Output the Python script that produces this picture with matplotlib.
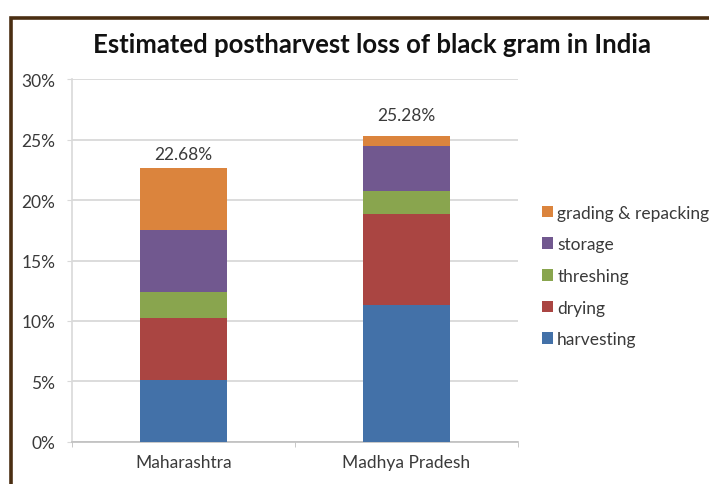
import matplotlib.pyplot as plt
from matplotlib.patches import Rectangle
from matplotlib.ticker import PercentFormatter, MultipleLocator

plt.rcParams['font.family'] = ['Lato', 'DejaVu Sans']

states = ['Maharashtra', 'Madhya Pradesh']
stages = ['harvesting', 'drying', 'threshing', 'storage', 'grading & repacking']
harvesting = [5.13, 11.34]
drying = [5.08, 7.51]
threshing = [2.16, 1.88]
storage = [5.13, 3.75]
grading = [5.18, 0.80]
colors = ['#4371a8', '#aa4542', '#89a54e', '#71588f', '#db843d']

fig = plt.figure(figsize=(7.09, 4.85), dpi=100)
# brown frame round the chart, running off the right and bottom edges
fig.patches.append(Rectangle((11 / 709, -0.05), 1.2, 1 - 19 / 485 + 0.05,
                             transform=fig.transFigure, fill=False,
                             edgecolor='#4a2e12', linewidth=2.6))

ax = fig.add_axes([72 / 709, 42.3 / 485, 446 / 709, 362.4 / 485])
x = range(len(states))
bottom = [0.0, 0.0]
for name, vals, c in zip(stages, [harvesting, drying, threshing, storage, grading], colors):
    ax.bar(x, vals, width=0.39, bottom=bottom, color=c, label=name, zorder=3)
    bottom = [b + v for b, v in zip(bottom, vals)]

label_offsets = [14, 21]
for i, total in enumerate(bottom):
    ax.annotate(f'{total:.2f}%', (i, total), xytext=(0, label_offsets[i]),
                textcoords='offset pixels', ha='center', va='center',
                fontsize=12.5, color='#3a3a3a')

ax.set_xlim(-0.5, 1.5)
ax.set_ylim(0, 30)
ax.yaxis.set_major_locator(MultipleLocator(5))
ax.yaxis.set_major_formatter(PercentFormatter(decimals=0))
ax.grid(axis='y', color='#d9d9d9', linewidth=1.3, zorder=0)
ax.set_xticks([0, 1])
ax.set_xticklabels(states)
ax.set_xticks([-0.5, 0.5, 1.5], minor=True)
ax.tick_params(axis='x', which='major', length=0, pad=9, labelsize=12.5, labelcolor='#3a3a3a')
ax.tick_params(axis='x', which='minor', length=3.6, color='#bfbfbf')
ax.tick_params(axis='y', length=3.6, color='#d9d9d9', labelsize=12.5, labelcolor='#3a3a3a', pad=8.5)
for s in ['top', 'right']:
    ax.spines[s].set_visible(False)
ax.spines['left'].set_color('#d9d9d9')
ax.spines['bottom'].set_color('#bfbfbf')
ax.spines['left'].set_linewidth(1.2)
ax.spines['bottom'].set_linewidth(1.2)

handles, labels = ax.get_legend_handles_labels()
ax.legend(handles[::-1], labels[::-1], loc='center left',
          bbox_to_anchor=(526 / 709, 1 - 277 / 485), bbox_transform=fig.transFigure,
          frameon=False, handlelength=0.65, handleheight=0.65, handletextpad=0.25,
          labelspacing=0.9, fontsize=12.5, labelcolor='#3a3a3a')

fig.text(372 / 709, 1 - 45 / 485, 'Estimated postharvest loss of black gram in India',
         ha='center', va='center', fontsize=18.5, fontweight='bold', color='#111111')

fig.savefig('out.png', dpi=100)
